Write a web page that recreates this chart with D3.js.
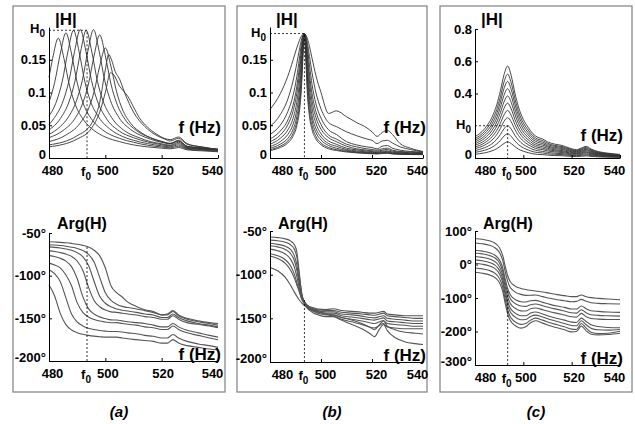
<!DOCTYPE html>
<html>
<head>
<meta charset="utf-8">
<script src="https://cdn.jsdelivr.net/npm/d3@7/dist/d3.min.js"></script>
<style>
  body { margin: 0; background: #fff; }
  svg { display: block; font-family: "Liberation Sans", Arial, sans-serif; font-weight: bold; }
</style>
</head>
<body>
<svg id="chart" width="635" height="424"></svg>
<script>
// ---------- data ----------
const freqTicks = [480, 500, 520, 540];
const f0 = 493.5;
const magTicksAB = [0, 0.05, 0.1, 0.15];
const magTicksC = [0, 0.4, 0.6, 0.8];
const phaseTicksAB = [-200, -150, -100, -50];
const phaseTicksC = [-300, -200, -100, 0, 100];
const H0 = { a: 0.195, b: 0.19, c: 0.2 };
// phase value where the dashed f0 line stops
const phaseAtF0 = { a: -66, b: -127, c: -72 };

// (a) |H| : every curve has its own peak, so [f, |H|] pairs
const magA = [
  [[480,.123],[481.3,.152],[483.3,.183],[485.3,.152],[487.3,.110],[489.3,.082],[492.3,.058],[496,.042],[500,.032],[505,.025],[510,.020],[515,.017],[520,.015],[523,.014],[526,.016],[529,.0125],[534,.011],[540,.0095]],
  [[480,.085],[482,.115],[484,.159],[486,.191],[488,.159],[490,.115],[492,.085],[495,.060],[499,.043],[505,.030],[510,.024],[515,.0195],[520,.0168],[523,.0155],[526,.018],[529,.0135],[534,.012],[540,.0105]],
  [[480,.064],[482.7,.087],[484.7,.117],[486.7,.162],[488.7,.195],[490.7,.162],[492.7,.117],[494.7,.087],[497.7,.062],[502,.043],[506,.033],[510,.027],[515,.022],[520,.0185],[523,.017],[526,.020],[529,.0146],[534,.013],[540,.0115]],
  [[480,.051],[482,.062],[485.1,.088],[487.1,.118],[489.1,.163],[491.1,.196],[493.1,.163],[495.1,.118],[497.1,.088],[500.1,.062],[505,.041],[510,.031],[515,.0245],[520,.0203],[523,.0185],[526,.022],[529,.0155],[534,.0137],[540,.012]],
  [[480,.043],[484,.060],[487.2,.087],[489.2,.117],[491.2,.162],[493.2,.195],[495.2,.162],[497.2,.117],[499.2,.087],[502.2,.062],[507,.041],[512,.031],[516,.025],[520,.0217],[523,.0195],[526,.024],[529,.0162],[534,.0143],[540,.0125]],
  [[480,.036],[484,.048],[486.8,.062],[489.8,.088],[491.8,.118],[493.8,.163],[495.8,.196],[497.8,.163],[499.8,.118],[501.8,.088],[504.8,.062],[509,.0435],[514,.032],[518,.026],[521,.023],[523,.0215],[526,.026],[529,.0177],[534,.0153],[540,.0133]],
  [[480,.031],[485,.042],[489,.059],[492,.084],[494,.113],[496,.156],[498,.188],[500,.156],[502,.113],[504,.084],[507,.059],[511,.042],[516,.031],[520,.0254],[523,.0224],[526,.027],[529,.018],[534,.0156],[540,.0134]],
  [[480,.025],[486,.035],[491,.053],[494,.075],[496,.101],[498,.140],[500,.168],[502,.140],[504,.101],[506,.075],[509,.053],[513,.038],[518,.0276],[521,.0237],[523,.022],[526,.026],[529,.0175],[534,.015],[540,.0126]],
  [[480,.020],[490,.034],[495,.052],[498,.085],[500,.135],[501.2,.158],[502.2,.150],[503.5,.132],[505,.121],[507,.098],[510,.070],[514,.048],[518,.035],[521,.029],[523,.026],[526,.030],[529,.021],[534,.017],[540,.013]],
  [[480,.017],[490,.029],[495,.045],[498,.070],[500,.100],[501.8,.130],[503,.127],[505,.110],[506.5,.102],[508,.094],[510,.078],[512,.062],[515,.047],[518,.037],[521,.030],[523,.028],[526,.032],[529,.022],[534,.017],[540,.013]]
];

// (b) |H|
const freqMagB = [480,484,487,489,490.5,491.5,492.3,493,493.5,494,494.7,495.5,496.5,498,500,503,506,510,514,518,520,522,524,526,528,531,535,540];
const magB = [
  [.074,.098,.125,.149,.168,.179,.186,.189,.19,.188,.182,.170,.152,.126,.100,.068,.072,.063,.054,.046,.040,.033,.039,.042,.036,.022,.015,.010],
  [.048,.066,.090,.117,.144,.165,.180,.188,.19,.187,.175,.155,.130,.100,.075,.054,.048,.040,.034,.029,.027,.022,.026,.027,.023,.017,.013,.009],
  [.036,.050,.071,.095,.124,.151,.173,.187,.19,.185,.167,.141,.112,.083,.061,.043,.036,.025,.020,.017,.016,.014,.018,.019,.015,.012,.010,.009],
  [.029,.041,.058,.080,.109,.138,.165,.185,.19,.183,.158,.127,.098,.071,.051,.035,.029,.021,.017,.014,.013,.012,.014,.015,.012,.010,.009,.008],
  [.025,.035,.051,.071,.098,.127,.158,.183,.19,.181,.150,.116,.087,.062,.044,.031,.025,.018,.014,.012,.011,.0105,.012,.013,.0105,.009,.008,.0075],
  [.021,.030,.043,.060,.085,.114,.148,.180,.19,.177,.140,.104,.076,.053,.037,.026,.021,.015,.0125,.0105,.0098,.0092,.0105,.011,.009,.008,.0072,.0068],
  [.0175,.025,.036,.051,.073,.101,.137,.176,.19,.173,.128,.092,.065,.045,.032,.022,.018,.013,.0108,.0092,.0087,.0082,.0092,.0098,.008,.0072,.0066,.0062],
  [.0148,.021,.030,.043,.063,.088,.125,.172,.19,.168,.118,.082,.057,.039,.0275,.019,.015,.0115,.0095,.0082,.0078,.0074,.0082,.0087,.0072,.0066,.006,.0058],
  [.0127,.018,.026,.037,.055,.078,.114,.166,.19,.161,.105,.070,.049,.033,.023,.016,.0128,.0102,.0085,.0074,.007,.0067,.0074,.0078,.0066,.006,.0056,.0054],
  [.0113,.016,.023,.033,.049,.070,.105,.161,.19,.154,.096,.063,.043,.029,.0203,.014,.0115,.0092,.0078,.0068,.0065,.0062,.0068,.0072,.0062,.0057,.0053,.0051]
];

// (c) |H|
const freqMagC = [480,484,487,489,490.5,492,493.5,495,496.5,498,500,502,504,506,508,510,513,516,519,522,524,526,528,531,535,540];
const magC = [
  [.132,.182,.252,.330,.416,.516,.570,.510,.403,.316,.239,.190,.150,.128,.118,.100,.086,.078,.062,.052,.062,.072,.056,.040,.030,.022],
  [.120,.166,.230,.301,.379,.471,.520,.465,.368,.288,.218,.173,.137,.117,.108,.091,.078,.071,.057,.047,.057,.066,.051,.036,.027,.020],
  [.110,.152,.210,.275,.347,.430,.475,.425,.336,.263,.199,.158,.125,.107,.098,.083,.072,.065,.052,.043,.052,.060,.047,.033,.025,.018],
  [.100,.137,.190,.249,.314,.389,.430,.385,.304,.238,.180,.143,.113,.097,.089,.075,.065,.059,.047,.039,.047,.054,.042,.030,.023,.017],
  [.089,.123,.170,.223,.281,.348,.385,.344,.272,.213,.161,.128,.101,.086,.080,.068,.058,.053,.042,.035,.042,.049,.038,.027,.020,.015],
  [.079,.108,.150,.197,.248,.308,.340,.304,.240,.188,.142,.113,.089,.076,.070,.060,.051,.046,.037,.031,.037,.043,.033,.024,.018,.013],
  [.068,.094,.131,.171,.215,.267,.295,.264,.209,.164,.124,.098,.078,.066,.061,.052,.045,.040,.032,.027,.032,.037,.029,.021,.016,.011],
  [.058,.080,.111,.145,.183,.227,.250,.224,.177,.139,.105,.083,.066,.056,.052,.044,.038,.034,.027,.023,.027,.032,.025,.018,.013,.010],
  [.046,.064,.088,.116,.146,.181,.200,.179,.141,.111,.084,.067,.053,.045,.041,.035,.030,.027,.022,.018,.022,.025,.020,.014,.011,.008],
  [.035,.048,.066,.087,.109,.136,.150,.134,.106,.083,.063,.050,.039,.034,.031,.026,.023,.021,.016,.014,.016,.019,.015,.011,.008,.006],
  [.023,.032,.044,.058,.073,.090,.100,.089,.071,.055,.042,.033,.026,.022,.021,.018,.015,.014,.011,.009,.011,.013,.010,.007,.005,.004]
];

// (a) Arg(H), degrees
const freqPhaseA = [480,482,484,486,488,490,492,494,496,498,500,502,504,506,508,511,514,517,520,522,524,526,529,533,537,540];
const phaseA = [
  [-110.6,-123.8,-144.2,-157.4,-163.6,-166.8,-168.7,-170,-170.9,-171.5,-172,-172,-172,-173,-174,-175,-176,-177,-179,-179,-175,-179,-182,-184,-186,-187],
  [-93,-97.7,-107,-126,-145,-154.3,-158.9,-161.6,-163.1,-164.3,-165,-165.5,-165.5,-166,-167,-168,-170,-171,-173,-173,-169,-173,-177,-180,-182,-184],
  [-85.3,-87.4,-90.8,-99.3,-111.9,-131.6,-143,-148.4,-151.4,-153.2,-154.3,-155.2,-155,-156,-157,-158,-160,-161,-163,-163,-159,-163,-167,-170,-173,-175],
  [-76.2,-77.6,-79.7,-83,-89.4,-103.4,-124.6,-138.6,-145,-148.3,-150.3,-151.8,-152,-153,-154,-155,-156,-158,-160,-160,-156,-160,-164,-167,-170,-172],
  [-70.9,-71.7,-72.9,-74.6,-77.4,-82.8,-93.6,-113.3,-129,-136.4,-140.3,-142.4,-143,-144,-145,-146,-148,-149,-151,-151,-147,-151,-155,-157,-159,-161],
  [-66.3,-66.8,-67.6,-68.7,-70.3,-73,-77.8,-87.9,-106.6,-124,-132.3,-136.5,-139,-140.5,-141.5,-143,-145,-146,-149,-149,-145,-149,-153,-156,-158,-160],
  [-63.7,-64.1,-64.7,-65.5,-66.6,-68.1,-70.6,-75,-83.9,-102,-120,-129,-133.4,-136,-137.4,-139,-141,-143,-146,-146,-142,-147,-151,-154,-156,-158],
  [-60.2,-60.6,-61,-61.5,-62.2,-63.1,-64.5,-66.5,-70.2,-76.8,-91,-111.7,-120,-125,-131,-136,-140,-142,-146,-145,-141,-146,-150,-153,-155,-156]
];

// (b) Arg(H)
const freqPhaseB = [480,483,486,488,489.5,490.5,491.5,492.5,493.5,494.5,495.5,497,499,502,505,508,512,516,519,521,523,524.5,526,529,533,537,540];
const phaseB = [
  [-56.9,-57.6,-59,-61.3,-65.5,-73.7,-98.5,-123.3,-131.5,-134.9,-136.5,-138,-139.5,-140,-139,-141,-142,-143,-144,-144,-143,-142,-145,-146,-147,-147,-147],
  [-60.4,-61.2,-62.9,-65.7,-70.7,-79.5,-101,-122.5,-131.3,-135.2,-137.3,-139.1,-140.5,-141,-141,-143,-144,-145,-146,-146.5,-145,-144,-147,-148,-149,-150,-150],
  [-64.1,-65.3,-67.5,-71.1,-77.9,-88.5,-107.7,-123.6,-131.6,-135.5,-137.8,-139.9,-141.5,-142.5,-142.5,-145,-146,-147.5,-149,-149.5,-148,-147,-150,-151,-152,-153,-153],
  [-66.8,-68.2,-71.1,-75.6,-83.5,-94.4,-110.5,-123.9,-131.6,-135.8,-138.4,-140.7,-142.5,-144,-144,-147,-148.5,-150,-151.5,-152,-150.5,-149.5,-153,-154,-155,-156,-156],
  [-70.8,-72.6,-76.3,-81.9,-91.1,-101.9,-115.1,-125.9,-132.7,-137,-139.7,-142.3,-144.4,-146.2,-146,-149,-151,-153,-155,-156,-154,-152.5,-156,-157,-158,-159,-159],
  [-76.1,-78.3,-82.9,-89.5,-99.1,-108.8,-119.3,-128,-134,-138.1,-140.9,-143.8,-146.1,-148.1,-148,-151,-154,-157,-160,-161,-158,-156,-160,-161,-162,-162,-162],
  [-78.6,-81.4,-87,-94.4,-103.7,-111.5,-119.3,-128.6,-131,-134.6,-137.3,-140.2,-142.7,-145,-146.5,-149,-152,-156,-160,-163,-157,-153,-159,-163,-166,-167,-168],
  [-91.7,-95.6,-103.2,-111.8,-119.7,-124.6,-129,-132.5,-135.3,-137.5,-139.2,-141.2,-143.1,-145.1,-148,-152,-157,-162,-167,-171,-162,-157,-164,-172,-177,-179,-180]
];

// (c) Arg(H)
const freqPhaseC = [480,483,486,488,489.5,490.5,491.5,492.5,493.5,494.5,495.5,497,499,501,503,505,508,511,514,517,520,522,524,526,528,531,535,540];
const phaseC = [
  [77.6,75.2,70.8,64.8,55.9,45,26.3,-5.6,-32.9,-50.1,-58.9,-66.4,-71.6,-74.6,-77,-79,-82,-86,-90,-93,-96,-96,-91,-96,-99,-101,-103,-105],
  [64.4,61.9,57.3,51.2,42,30.8,11.4,-21.3,-49.4,-67,-76.1,-83.9,-89.1,-92.3,-92,-91,-96,-101,-105,-108,-111,-110,-104,-110,-114,-116,-117,-118],
  [42.4,39.9,35.3,29.2,20,8.7,-10.6,-43.3,-71.4,-89,-98.1,-105.9,-111.1,-112,-108,-107,-113,-119,-124,-128,-133,-133,-124,-132,-138,-140,-142,-143],
  [34.2,31.6,26.9,20.6,11.1,-0.5,-20.4,-54,-82.8,-100.9,-110.3,-118.3,-123.7,-125,-120,-118,-123,-129,-134,-139,-144,-145,-135,-144,-150,-152,-153,-154],
  [24,21.3,16.4,9.9,0.1,-11.8,-32.2,-66.6,-96.2,-114.9,-124.5,-132.7,-138.3,-139,-132,-130,-135,-141,-146,-151,-156,-157,-146,-156,-161,-163,-164,-164],
  [13.7,11,6,-0.7,-10.8,-23,-44.1,-79.3,-109.7,-128.8,-138.7,-147.1,-152.9,-153,-145,-142,-148,-155,-161,-166,-172,-173,-160,-170,-180,-185,-188,-189],
  [3.6,0.9,-4.2,-10.9,-21.1,-33.5,-54.8,-90.4,-121,-140.3,-150.3,-158.9,-164.7,-164,-155,-151,-157,-164,-170,-176,-182,-183,-168,-180,-190,-195,-196,-194],
  [-10.4,-13.1,-18.2,-24.9,-35.1,-47.5,-68.8,-104.4,-135,-154.3,-164.3,-172.9,-178.7,-176,-166,-160,-166,-174,-180,-186,-193,-194,-176,-190,-202,-206,-205,-199],
  [-23.3,-26,-31,-37.7,-47.8,-60,-81.1,-116.3,-146.7,-165.8,-175.7,-184.1,-189.9,-186,-174,-168,-175,-183,-189,-195,-201,-200,-184,-198,-208,-210,-209,-205]
];

// ---------- layout ----------
const toPairs = (freq, rows) => rows.map(r => r.map((v, i) => [freq[i], v]));

const panels = [
  { key: "a", box: [13, 225], x: [49, 218], magY: [158, 27], phY: [361, 233],
    magDomain: [0, 0.2], magTicks: magTicksAB, phDomain: [-200, -50], phTicks: phaseTicksAB,
    mag: magA, phase: toPairs(freqPhaseA, phaseA), lblDx: [3, 2, 1, -6] },
  { key: "b", box: [237, 427], x: [270, 423], magY: [158, 27], phY: [362, 231],
    magDomain: [0, 0.2], magTicks: magTicksAB, phDomain: [-200, -50], phTicks: phaseTicksAB,
    mag: toPairs(freqMagB, magB), phase: toPairs(freqPhaseB, phaseB), lblDx: [12, 4, 4, -6] },
  { key: "c", box: [440, 632], x: [475, 620], magY: [158, 29], phY: [365, 231],
    magDomain: [0, 0.8], magTicks: magTicksC, phDomain: [-300, 100], phTicks: phaseTicksC,
    mag: toPairs(freqMagC, magC), phase: toPairs(freqPhaseC, phaseC), lblDx: [10, 2, 2, -6] }
];

const svg = d3.select("#chart");

function axes(g, x, y, yTicks, yFmt, dx) {
  const y0 = y.range()[0];
  const gx = g.append("g")
    .attr("transform", `translate(0,${y0})`)
    .call(d3.axisBottom(x).tickValues(freqTicks).tickSizeInner(-3).tickSizeOuter(0).tickPadding(8));
  gx.selectAll("text").attr("dx", (d, i) => dx[i]);
  const gy = g.append("g")
    .attr("transform", `translate(${x.range()[0]},0)`)
    .call(d3.axisLeft(y).tickValues(yTicks).tickFormat(yFmt).tickSizeInner(-3).tickSizeOuter(0).tickPadding(3));
  // the lowest y label sits a little above the x labels, as in the original
  gy.selectAll("text").filter((d, i) => i === 0).attr("dy", "0.05em");
  [gx, gy].forEach(a => a.attr("font-family", null).attr("font-size", 13).attr("font-weight", "bold"));
}

function curves(g, x, y, series, color, width) {
  const line = d3.line().x(d => x(d[0])).y(d => y(d[1])).curve(d3.curveMonotoneX);
  g.append("g").selectAll("path").data(series).join("path")
    .attr("d", line)
    .attr("fill", "none")
    .attr("stroke", color)
    .attr("stroke-width", width);
}

function subLabel(g, x, y, base, idx, anchor) {
  const t = g.append("text").attr("x", x).attr("y", y).attr("text-anchor", anchor).attr("font-size", 13);
  t.append("tspan").text(base);
  t.append("tspan").attr("dy", 4).attr("font-size", 10).text(idx);
  return t;
}

panels.forEach(p => {
  const g = svg.append("g");
  g.append("rect")
    .attr("x", p.box[0]).attr("y", 6)
    .attr("width", p.box[1] - p.box[0]).attr("height", 386)
    .attr("fill", "none").attr("stroke", "#8a8a8a").attr("stroke-width", 1.3);

  const x = d3.scaleLinear().domain([480, 540]).range(p.x);
  const x0 = p.x[0];

  // magnitude
  const ym = d3.scaleLinear().domain(p.magDomain).range(p.magY);
  curves(g, x, ym, p.mag, "#333", 0.9);
  g.append("path")
    .attr("d", `M${x0},${ym(H0[p.key])}H${x(f0)}V${ym(0)}`)
    .attr("fill", "none").attr("stroke", "#000").attr("stroke-width", 0.8).attr("stroke-dasharray", "2,2");
  axes(g, x, ym, p.magTicks, d => d === 0 ? "0" : String(d), p.lblDx);
  subLabel(g, x0 - 4, ym(H0[p.key]) + 3, "H", "0", "end");
  subLabel(g, x(f0) - 1, ym(0) + 18, "f", "0", "middle");
  g.append("text").attr("x", x0 + 6).attr("y", 25).attr("font-size", 17).text("|H|");
  g.append("text").attr("x", p.x[1] + 3).attr("y", p.key === "c" ? 141 : 133)
    .attr("text-anchor", "end").attr("font-size", 17).text("f (Hz)");

  // phase
  const yp = d3.scaleLinear().domain(p.phDomain).range(p.phY);
  curves(g, x, yp, p.phase, "#555", 1.1);
  g.append("line")
    .attr("x1", x(f0)).attr("x2", x(f0))
    .attr("y1", yp(p.phDomain[0])).attr("y2", yp(phaseAtF0[p.key]))
    .attr("stroke", "#000").attr("stroke-width", 0.8).attr("stroke-dasharray", "2,2");
  axes(g, x, yp, p.phTicks, d => d + "°", p.lblDx);
  subLabel(g, x(f0) - 1, yp(p.phDomain[0]) + 18, "f", "0", "middle");
  g.append("text").attr("x", x0 + 8).attr("y", 229).attr("font-size", 16).text("Arg(H)");
  g.append("text").attr("x", p.x[1] + 3).attr("y", p.phY[0] - 1)
    .attr("text-anchor", "end").attr("font-size", 17).text("f (Hz)");

  g.append("text")
    .attr("x", (p.box[0] + p.box[1]) / 2).attr("y", 417)
    .attr("text-anchor", "middle").attr("font-size", 15).attr("font-style", "italic")
    .text(`(${p.key})`);
});
</script>
</body>
</html>
